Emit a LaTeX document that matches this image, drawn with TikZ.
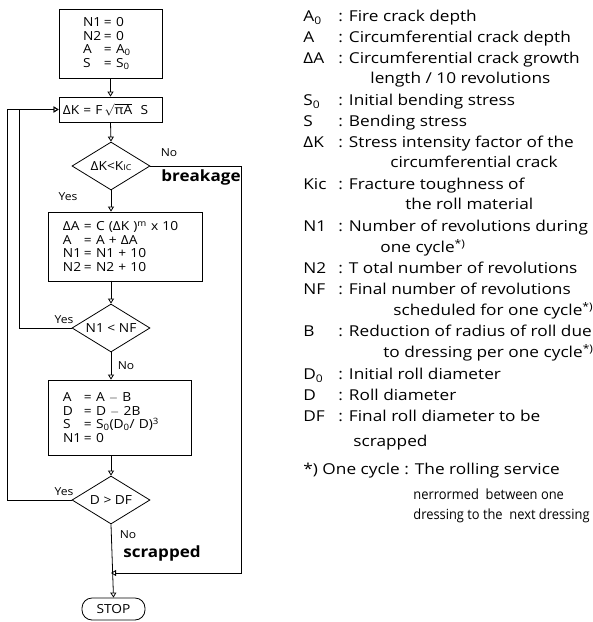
\documentclass[tikz,border=0pt]{standalone}
\usepackage{fontspec}
\setmainfont{Open Sans}[FakeStretch=1.1]
\newfontfamily\keyfont{Open Sans}[FakeStretch=1.15]
\newfontfamily\notefont{Open Sans}[FakeStretch=0.92]
\usetikzlibrary{positioning,arrows.meta,calc,shapes.geometric}
\newcommand\keysym[1]{\makebox[35pt][l]{#1}}
\newcommand\lhs[2]{\makebox[#1][l]{#2}}

\begin{document}
\begin{tikzpicture}[x=1pt,y=-1pt,line width=0.8pt,
    flow/.style={-{Triangle[open,length=5pt,width=6pt]}},
    procbox/.style={draw,rectangle,inner ysep=0pt,align=left,font=\fontsize{12.5}{13.5}\selectfont},
    testbox/.style={draw,diamond,inner sep=0pt,aspect=2,minimum width=78pt,minimum height=48pt,font=\fontsize{12.5}{13.5}\selectfont},
    lbl/.style={inner sep=0pt,font=\fontsize{11}{12}\selectfont},
    boldlbl/.style={inner sep=0pt,font=\fontsize{15.5}{17}\selectfont\bfseries},
    keyline/.style={anchor=west,inner sep=0pt,text height=11pt,text depth=2pt,font=\fontsize{15}{17}\keyfont},
    noteline/.style={keyline,font=\fontsize{14}{16}\notefont}]
  \useasboundingbox (0,0) rectangle (593,622);

  % flow chart
  \node[procbox,inner xsep=24pt,text width=55pt,minimum height=69pt] (init) at (110.5,43.5)
    {\lhs{21pt}{N1}= 0\\\lhs{21pt}{N2}= 0\\\lhs{21pt}{A}= A\textsubscript{0}\\\lhs{21pt}{S}= S\textsubscript{0}};
  \node[procbox,inner xsep=4pt,text width=95pt,minimum height=25pt] (sif) at (110.5,109.5)
    {ΔK = F\,$\sqrt{\mbox{πA}}$\ \ S};
  \node[testbox] (brk) at (111,166) {ΔK<K{\footnotesize IC}};
  \node[procbox,inner xsep=15pt,text width=124pt,minimum height=69pt] (grow) at (125,246.5)
    {\lhs{21pt}{ΔA}= C (ΔK )\textsuperscript{m} x 10\\\lhs{21pt}{A}= A + ΔA\\\lhs{21pt}{N1}= N1 + 10\\\lhs{21pt}{N2}= N2 + 10};
  \node[testbox] (cyc) at (111,328) {N1 < NF};
  \node[procbox,inner xsep=15pt,text width=113pt,minimum height=75pt] (dress) at (119.5,417.5)
    {\lhs{21pt}{A}= A $-$ B\\\lhs{21pt}{D}= D $-$ 2B\\\lhs{21pt}{S}= S\textsubscript{0}(D\textsubscript{0}/ D)\textsuperscript{3}\\\lhs{21pt}{N1}= 0};
  \node[testbox] (scr) at (111,500) {D > DF};
  \node[draw,rounded corners=10pt,minimum width=63pt,minimum height=22pt,inner sep=0pt,
    font=\fontsize{12.5}{13.5}\selectfont] (stop) at (113.5,609) {STOP};
  \coordinate (join) at (111,573);

  \draw[flow] (init.south) -- (sif.north);
  \draw[flow] (sif.south) -- (brk.north);
  \draw[flow] (brk.south) -- (brk.south |- grow.north);
  \draw[flow] (grow.north -| cyc.north) ++(0,69) -- (cyc.north);
  \draw[flow] (cyc.south) -- (cyc.south |- dress.north);
  \draw[flow] (scr.south |- dress.south) -- (scr.north);
  \draw[flow] (scr.south) -- (stop.north);
  \draw[flow] (cyc.west) -- ++(-52,0) |- (sif.west);
  \draw[flow] (scr.west) -- ++(-64,0) |- (sif.west);
  \draw[flow] (brk.east) -- ++(91,0) |- (join);

  \node[lbl] (no1) at (169,153) {No};
  \node[boldlbl] (bkg) at (201,177) {breakage};
  \node[lbl] (yes1) at (68,197) {Yes};
  \node[lbl] (yes2) at (64,320) {Yes};
  \node[lbl] (no2) at (126,366) {No};
  \node[lbl] (yes3) at (64,492) {Yes};
  \node[lbl] (no3) at (128,535) {No};
  \node[boldlbl] (scp) at (162,553) {scrapped};

  % key
  \node[keyline] (kA0) at (303,17) {\keysym{A\textsubscript{0}}: Fire crack depth};
  \node[keyline] (kA) at (303,38) {\keysym{A}: Circumferential crack depth};
  \node[keyline] (kdA) at (303,59) {\keysym{ΔA}: Circumferential crack growth};
  \node[keyline] (kdA2) at (370,79) {length / 10 revolutions};
  \node[keyline] (kS0) at (303,101) {\keysym{S\textsubscript{0}}: Initial bending stress};
  \node[keyline] (kS) at (303,122) {\keysym{S}: Bending stress};
  \node[keyline] (kdK) at (303,143) {\keysym{ΔK}: Stress intensity factor of the};
  \node[keyline] (kdK2) at (390,163) {circumferential crack};
  \node[keyline] (kKic) at (303,185) {\keysym{Kic}: Fracture toughness of};
  \node[keyline] (kKic2) at (405,205) {the roll material};
  \node[keyline] (kN1) at (303,227) {\keysym{N1}: Number of revolutions during};
  \node[keyline] (kN12) at (380,248) {one cycle\textsuperscript{*)}};
  \node[keyline] (kN2) at (303,269) {\keysym{N2}: T otal number of revolutions};
  \node[keyline] (kNF) at (303,290) {\keysym{NF}: Final number of revolutions};
  \node[keyline] (kNF2) at (393,311) {scheduled for one cycle\textsuperscript{*)}};
  \node[keyline] (kB) at (303,332) {\keysym{B}: Reduction of radius of roll due};
  \node[keyline] (kB2) at (383,353) {to dressing per one cycle\textsuperscript{*)}};
  \node[keyline] (kD0) at (303,375) {\keysym{D\textsubscript{0}}: Initial roll diameter};
  \node[keyline] (kD) at (303,396) {\keysym{D}: Roll diameter};
  \node[keyline] (kDF) at (303,417) {\keysym{DF}: Final roll diameter to be};
  \node[keyline] (kDF2) at (353,442) {scrapped};
  \node[keyline] (kcyc) at (303,470) {*) One cycle : The rolling service};
  \node[noteline] (kcyc2) at (413,495) {nerrormed\ \ between one};
  \node[noteline] (kcyc3) at (413,515) {dressing to the\ \ next dressing};
\end{tikzpicture}
\end{document}
